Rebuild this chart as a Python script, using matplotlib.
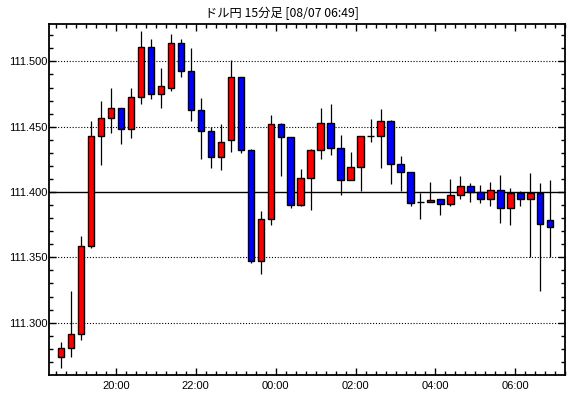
import matplotlib
matplotlib.use("Agg")
import matplotlib.pyplot as plt
from matplotlib.ticker import MultipleLocator

# ドル円 15分足 (08/06 18:30 - 08/07 06:45)
start_minute = 30          # 18:30, minutes after 18:00
bar_minutes = 15

opens = [111.274, 111.281, 111.291, 111.359, 111.443, 111.457, 111.464, 111.448, 111.473, 111.511,
         111.475, 111.480, 111.514, 111.493, 111.463, 111.447, 111.427, 111.440, 111.488, 111.432,
         111.347, 111.379, 111.452, 111.442, 111.390, 111.411, 111.432, 111.453, 111.434, 111.409,
         111.419, 111.443, 111.443, 111.454, 111.4217, 111.415, 111.392, 111.3926, 111.3944, 111.391,
         111.398, 111.4043, 111.3997, 111.3944, 111.4018, 111.388, 111.3992, 111.395, 111.3992, 111.3783]
highs = [111.285, 111.3245, 111.366, 111.454, 111.470, 111.480, 111.464, 111.480, 111.523, 111.517,
         111.495, 111.5207, 111.517, 111.510, 111.472, 111.450, 111.452, 111.501, 111.488, 111.433,
         111.3855, 111.459, 111.453, 111.442, 111.418, 111.4327, 111.464, 111.467, 111.444, 111.431,
         111.443, 111.456, 111.4635, 111.455, 111.4276, 111.415, 111.3995, 111.408, 111.3944, 111.410,
         111.412, 111.407, 111.4054, 111.408, 111.413, 111.4028, 111.401, 111.4145, 111.407, 111.409]
lows = [111.265, 111.274, 111.287, 111.357, 111.421, 111.445, 111.437, 111.4416, 111.467, 111.471,
        111.4645, 111.477, 111.488, 111.4546, 111.4255, 111.4186, 111.417, 111.431, 111.430, 111.346,
        111.337, 111.375, 111.412, 111.388, 111.389, 111.386, 111.4255, 111.4286, 111.398, 111.409,
        111.401, 111.4385, 111.4186, 111.406, 111.401, 111.389, 111.3796, 111.3926, 111.3827, 111.3895,
        111.3946, 111.3926, 111.3918, 111.3895, 111.376, 111.375, 111.389, 111.350, 111.3245, 111.350]
closes = [111.281, 111.291, 111.359, 111.443, 111.457, 111.464, 111.448, 111.473, 111.511, 111.4747,
          111.481, 111.514, 111.493, 111.463, 111.447, 111.427, 111.438, 111.488, 111.432, 111.347,
          111.379, 111.452, 111.442, 111.390, 111.411, 111.432, 111.453, 111.434, 111.409, 111.419,
          111.443, 111.443, 111.454, 111.4217, 111.4156, 111.3918, 111.392, 111.394, 111.391, 111.398,
          111.4043, 111.3997, 111.3944, 111.4018, 111.388, 111.3992, 111.395, 111.3992, 111.3753, 111.373]

time_labels = ["20:00", "22:00", "00:00", "02:00", "04:00", "06:00"]
price_levels = [111.300, 111.350, 111.400, 111.450, 111.500]
title = "ドル円 15分足 [08/07 06:49]"

plt.rcParams['font.family'] = ['Liberation Sans', 'DejaVu Sans']

fig = plt.figure(figsize=(5.70, 3.98), dpi=100)
ax = fig.add_axes([49.3 / 570, 1 - 374.7 / 398, 516 / 570, 350.7 / 398])

# x: minutes after 18:00, each candle drawn in the middle of its 15 minutes
x = [start_minute + bar_minutes * i + bar_minutes / 2 for i in range(len(opens))]
colors = ['#ff0000' if c >= o else '#0000ff' for o, c in zip(opens, closes)]

# grid lines (111.400 solid, others dotted)
for lv in price_levels:
    if abs(lv - 111.400) < 1e-9:
        ax.axhline(lv, color='black', lw=1.0, zorder=1)
    else:
        ax.axhline(lv, color='black', lw=0.8, ls=(0, (1, 1.6)), zorder=1)

ax.vlines(x, lows, highs, color='black', lw=0.9, zorder=2)
ax.bar(x, [c - o for o, c in zip(opens, closes)], bottom=opens, width=9.5,
       color=colors, edgecolor='black', linewidth=1.0, zorder=3)

ax.set_xlim(20, 795)
ax.set_ylim(111.2602, 111.5286)

def label_pos(lbl):
    h, m = map(int, lbl.split(':'))
    if h < 18:
        h += 24
    return (h - 18) * 60 + m

ax.set_xticks([label_pos(l) for l in time_labels])
ax.set_xticklabels(time_labels)
ax.xaxis.set_minor_locator(MultipleLocator(bar_minutes))

ax.set_yticks(price_levels)
ax.set_yticklabels([f"{v:.3f}" for v in price_levels])
ax.yaxis.set_minor_locator(MultipleLocator(0.01))

ax.tick_params(which='both', direction='in', top=True, right=True, width=1.0, labelsize=8, colors='black')
ax.tick_params(which='major', length=5)
ax.tick_params(which='minor', length=3)
ax.tick_params(axis='y', pad=1.5)
ax.tick_params(axis='x', pad=4.5)

for s in ax.spines.values():
    s.set_linewidth(1.3)
    s.set_color('black')

fig.text(282 / 570, 1 - 13 / 398, title, ha='center', va='center', fontsize=8.8,
         family=['Noto Sans CJK JP', 'DejaVu Sans'])

fig.savefig("out.png", dpi=100)
